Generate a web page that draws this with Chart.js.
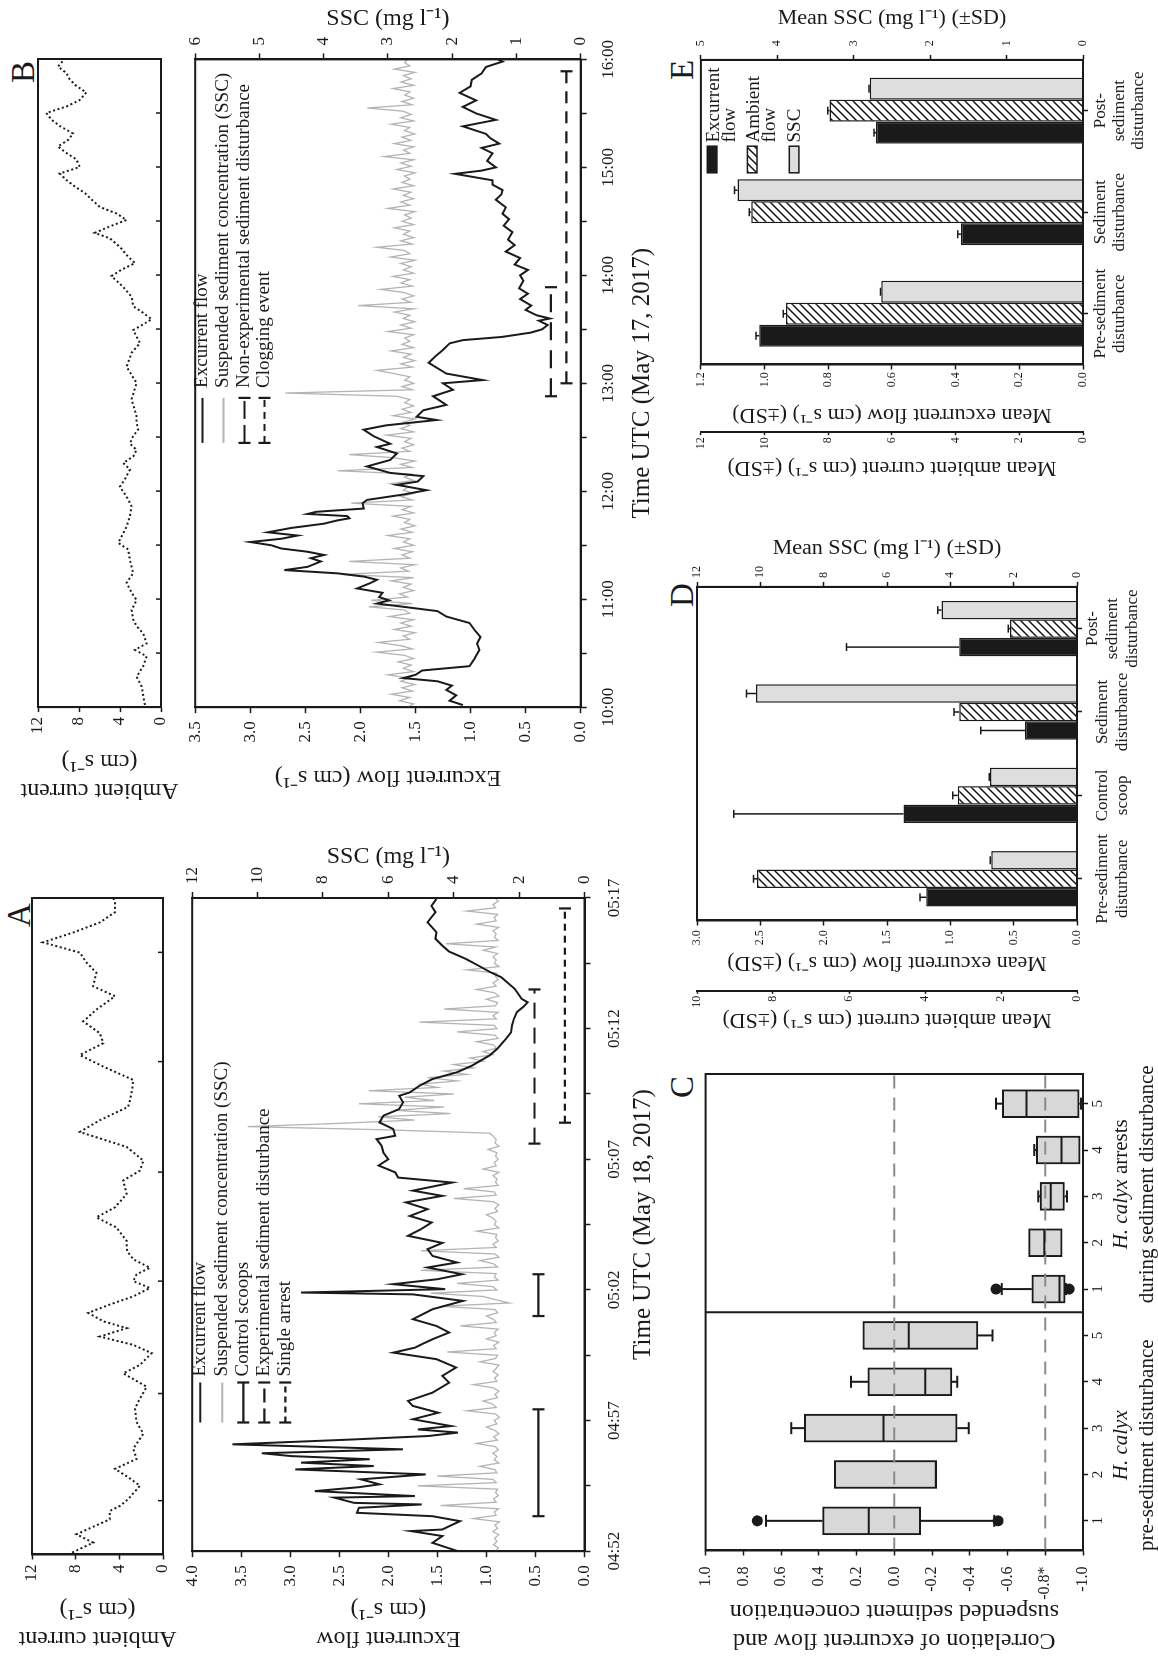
<!DOCTYPE html>
<html>
<head>
<meta charset="utf-8">
<title>Excurrent flow, ambient current and SSC</title>
<script src="https://cdn.jsdelivr.net/npm/chart.js@4.4.1/dist/chart.umd.min.js"></script>
<style>
  html, body { margin: 0; padding: 0; background: #fff; }
  body { width: 1158px; height: 1657px; overflow: hidden; position: relative; }
  /* the figure is laid out in landscape and turned a quarter left */
  #fig { position: absolute; left: 0; top: 0; width: 1657px; height: 1158px;
         transform-origin: 0 0; transform: translate(0px, 1657px) rotate(-90deg); }
  #fig canvas { position: absolute; }
  .letter { position: absolute; font-family: "Liberation Serif", serif; font-size: 33px;
            color: #1a1a1a; transform: translate(-50%, -50%); line-height: 1; }
</style>
</head>
<body>
<div id="fig">
  <div class="letter" style="left:742px;top:19px">A</div>
  <div class="letter" style="left:1585px;top:23px">B</div>
  <div class="letter" style="left:570px;top:682px">C</div>
  <div class="letter" style="left:1062px;top:682px">D</div>
  <div class="letter" style="left:1587px;top:682px">E</div>
</div>
<script>
// ---------- Panel A : May 18, minutes after 04:52 ----------
const tickLabA = ['04:52', '', '04:57', '', '05:02', '', '05:07', '', '05:12', '', '05:17'];
const flowA = [[0,1.29],[0.32,1.55],[0.58,1.45],[0.77,1.77],[0.83,1.45],[1.15,1.27],[1.34,1.55],[1.47,2.32],[1.66,2.3],[1.79,1.66],[1.85,2.35],[2.05,2.55],[2.11,1.73],[2.3,2.75],[2.45,2.3],[2.56,2.09],[2.75,2.28],[2.94,1.62],[3.13,2.95],[3.26,2.15],[3.39,2.89],[3.52,2.19],[3.64,2.99],[3.75,3.29],[3.9,1.85],[4.09,3.59],[4.28,2.34],[4.41,1.59],[4.54,1.29],[4.66,1.7],[4.79,1.36],[5.05,1.75],[5.3,1.49],[5.56,1.75],[5.75,1.8],[6.07,1.55],[6.45,1.38],[6.71,1.45],[7.03,1.31],[7.35,1.51],[7.6,1.95],[7.79,1.73],[7.92,1.66],[8.11,1.55],[8.37,1.38],[8.62,1.51],[8.88,1.75],[9.07,1.65],[9.26,1.55],[9.58,1.24],[9.83,1.75],[9.9,2.89],[9.96,2.2],[10.03,1.42],[10.22,1.95],[10.41,1.5],[10.6,1.25],[10.86,1.6],[11.05,1.3],[11.3,1.55],[11.56,1.6],[11.8,1.45],[12.07,1.8],[12.32,1.67],[12.58,1.56],[12.83,1.78],[13.09,1.6],[13.35,1.82],[13.6,1.45],[13.8,1.75],[14.11,1.35],[14.3,1.9],[14.5,1.93],[14.76,2.1],[15.0,2.0],[15.25,2.05],[15.52,2.07],[15.77,2.12],[15.9,1.93],[16.16,1.95],[16.41,2.09],[16.67,2.05],[16.92,1.89],[17.18,1.85],[17.43,1.89],[17.56,1.78],[17.82,1.68],[18.07,1.55],[18.33,1.3],[18.58,1.15],[18.97,0.97],[19.23,0.89],[19.61,0.8],[19.86,0.75],[20.12,0.74],[20.37,0.72],[20.63,0.69],[20.85,0.62],[21.01,0.58],[21.14,0.64],[21.52,0.71],[21.97,0.85],[22.16,0.96],[22.45,1.1],[22.67,1.21],[22.95,1.38],[23.18,1.45],[23.44,1.52],[23.69,1.51],[24.07,1.6],[24.46,1.52],[24.7,1.56],[24.96,1.51]];
// SSC logged every 0.125 min from 04:52
const sscAStep = 0.125;
const sscA = [2.72,2.64,2.78,2.68,2.75,2.62,2.8,2.66,2.74,2.6,3.4,2.7,2.76,2.63,4.4,2.7,2.78,2.64,2.72,2.66,
  5.1,2.7,2.8,4.5,2.68,2.74,3.2,2.62,2.76,2.68,2.8,2.64,2.72,3.3,2.66,2.78,2.62,2.74,3.0,2.68,
  2.76,2.6,2.72,3.6,2.7,2.8,3.1,2.66,2.74,2.62,2.78,3.4,2.68,2.75,2.64,2.8,2.7,2.62,3.2,2.72,
  2.66,4.2,2.7,2.78,2.62,3.0,2.7,2.76,2.64,3.8,2.7,2.78,3.0,2.66,2.74,4.4,2.3,2.72,3.1,4.7,
  2.68,2.8,3.9,2.64,2.76,2.7,5.0,2.66,2.78,3.2,2.62,2.74,5.0,2.7,2.8,2.64,2.72,2.68,3.3,2.62,
  2.76,2.7,2.8,3.0,2.66,2.74,2.62,2.78,4.0,2.7,2.76,3.7,2.64,2.72,2.68,2.8,2.62,3.1,2.7,2.76,
  2.64,2.72,2.68,2.95,2.62,2.74,2.7,2.78,2.9,6.0,10.3,7.5,5.2,6.3,4.1,5.8,4.3,6.9,4.6,5.5,
  4.0,6.6,4.5,5.0,3.9,4.8,3.6,4.3,3.4,4.0,3.1,3.5,2.8,3.1,2.7,2.78,3.3,2.64,2.74,3.9,
  2.68,2.76,5.05,2.7,2.8,2.64,4.3,2.72,2.66,3.0,2.62,2.76,3.3,2.7,2.8,2.64,2.72,2.68,3.6,2.62,
  2.76,2.7,2.8,2.66,3.1,2.72,4.24,2.64,2.76,2.7,2.8,2.62,3.3,2.7,2.76,2.66,3.6,2.72,2.8,2.64,2.74];
const ambA = [[0,8.7],[0.45,6.4],[0.77,7.93],[1.34,4.87],[1.66,4.87],[1.85,3.95],[2.11,3.18],[2.62,2.11],[2.94,3.18],[3.26,4.4],[3.64,2.42],[4.03,2.72],[4.6,1.8],[5.05,2.42],[5.56,2.57],[5.94,2.11],[6.39,1.5],[6.9,3.64],[7.22,2.11],[7.67,1.04],[7.98,2.72],[8.3,5.78],[8.62,3.33],[8.88,5.47],[9.2,6.85],[9.52,4.87],[9.83,2.72],[10.15,1.19],[10.41,2.72],[10.67,2.42],[10.92,1.19],[11.24,2.72],[11.56,3.3],[11.94,3.33],[12.45,4.26],[12.84,6.1],[13.22,4.4],[13.73,3.33],[14.24,3.64],[14.62,2.11],[15.0,1.8],[15.52,3.33],[16.09,7.62],[16.54,5.78],[17.05,3.18],[17.56,2.88],[18.07,2.72],[18.58,5.47],[19.02,7.62],[19.47,5.47],[19.85,5.78],[20.3,7.31],[20.75,6.1],[21.26,4.4],[21.64,6.4],[22.15,6.1],[22.54,7.0],[22.92,7.62],[23.31,10.99],[23.69,8.2],[24.07,5.78],[24.46,4.4],[24.84,4.4],[25,4.56]];
const ambTicksA = [2.05, 6.13, 10.41, 14.56, 18.77, 22.93];
const ctrlScoopsA = [[1.34, 5.43], [9.0, 10.6]];
const sedDistA = [[15.6, 21.5]];
const singleArrestA = [[16.4, 24.6]];

// ---------- Panel B : May 17, hours after 10:00 ----------
const tickLabB = ['10:00', '', '11:00', '', '12:00', '', '13:00', '', '14:00', '', '15:00', '', '16:00'];
const flowB = [[0.02,1.07],[0.06,1.19],[0.11,1.13],[0.16,1.22],[0.2,1.17],[0.24,1.3],[0.27,1.61],[0.3,1.5],[0.34,1.44],[0.38,1.01],[0.44,0.97],[0.53,0.92],[0.59,0.94],[0.65,0.91],[0.71,0.96],[0.78,1.01],[0.84,1.22],[0.89,1.3],[0.93,1.61],[0.96,1.85],[0.99,1.74],[1.02,1.83],[1.06,1.8],[1.1,2.03],[1.15,1.91],[1.18,1.85],[1.21,1.97],[1.24,2.21],[1.27,2.69],[1.3,2.48],[1.35,2.36],[1.38,2.45],[1.41,2.33],[1.44,2.48],[1.47,2.72],[1.5,2.81],[1.53,3.0],[1.56,2.72],[1.59,2.57],[1.62,2.84],[1.66,2.63],[1.7,2.33],[1.73,2.21],[1.75,2.1],[1.77,2.12],[1.79,2.48],[1.81,2.4],[1.84,1.97],[1.89,1.98],[1.92,1.94],[1.97,1.61],[2.01,1.4],[2.06,1.67],[2.09,1.48],[2.14,1.43],[2.17,1.73],[2.23,1.94],[2.29,1.73],[2.35,1.67],[2.41,1.85],[2.44,1.73],[2.51,1.88],[2.57,1.97],[2.61,1.77],[2.66,1.31],[2.69,1.49],[2.75,1.43],[2.8,1.22],[2.88,1.34],[2.94,1.16],[3.0,1.25],[3.03,0.89],[3.09,1.22],[3.19,1.38],[3.25,1.32],[3.31,1.25],[3.37,1.19],[3.4,1.07],[3.43,0.71],[3.47,0.45],[3.5,0.35],[3.54,0.3],[3.58,0.38],[3.6,0.28],[3.63,0.4],[3.68,0.5],[3.72,0.45],[3.78,0.55],[3.83,0.48],[3.88,0.56],[3.95,0.52],[4.0,0.55],[4.05,0.48],[4.1,0.6],[4.16,0.55],[4.22,0.68],[4.28,0.6],[4.33,0.66],[4.4,0.62],[4.46,0.7],[4.52,0.65],[4.57,0.71],[4.63,0.68],[4.7,0.77],[4.75,0.72],[4.79,0.71],[4.84,0.8],[4.88,0.8],[4.94,1.14],[4.97,0.9],[5.0,0.77],[5.06,0.85],[5.13,0.8],[5.18,0.9],[5.22,0.74],[5.27,0.82],[5.31,0.86],[5.38,1.07],[5.44,0.77],[5.5,0.95],[5.56,1.07],[5.62,0.95],[5.69,1.1],[5.75,1.0],[5.81,0.99],[5.87,0.9],[5.93,0.86],[5.98,0.71],[6.0,0.75]];
// SSC logged every 0.03 h from 10:00
const sscBStep = 0.03;
const sscB = [2.7,2.6,2.82,2.66,2.95,2.62,2.78,2.58,2.8,2.68,3.0,2.6,2.76,2.64,2.84,2.6,2.74,3.18,2.62,2.8,
  3.15,2.66,2.76,2.58,2.9,2.64,2.8,2.6,2.98,2.66,2.74,3.3,2.62,3.26,2.7,2.82,2.6,2.76,2.64,2.95,
  2.6,3.72,2.68,2.8,2.58,3.6,2.66,2.78,2.62,2.9,2.6,2.76,2.66,3.0,2.62,2.8,2.58,2.74,2.66,2.92,
  2.6,2.78,2.64,3.57,2.62,2.8,2.6,2.76,2.68,2.96,2.6,2.74,2.64,3.78,2.62,2.8,2.58,2.9,3.6,2.66,
  2.78,2.6,2.74,2.64,3.02,2.6,2.8,2.66,2.76,2.58,2.92,2.64,2.78,2.6,2.74,2.66,2.86,4.6,2.62,2.78,
  2.6,2.74,2.66,2.9,3.17,2.62,2.8,2.58,2.76,2.64,2.95,2.6,2.78,2.66,2.74,2.6,3.0,2.64,2.8,2.58,
  2.76,2.66,2.9,2.6,3.46,2.64,2.78,2.6,2.74,3.11,2.62,2.8,2.66,2.92,2.6,2.76,2.64,2.8,2.58,2.96,
  2.66,2.74,3.17,2.62,2.8,2.6,2.76,2.66,2.9,2.6,2.78,2.64,2.74,2.58,3.0,2.66,2.8,2.6,2.76,2.64,
  2.92,2.6,2.78,2.66,2.74,2.58,2.86,2.64,2.8,2.6,3.06,2.66,2.76,2.6,2.9,2.64,2.78,2.58,2.74,2.66,
  2.95,2.6,2.8,2.64,2.76,3.32,2.62,2.78,2.6,2.74,2.66,2.92,2.6,2.8,2.64,2.76,2.58,2.9,2.66,2.74,2.7];
const ambB = [[0.02,1.57],[0.1,1.73],[0.19,1.88],[0.28,2.38],[0.38,1.73],[0.47,1.4],[0.53,2.54],[0.59,1.4],[0.68,1.73],[0.75,2.38],[0.81,2.71],[0.9,2.87],[0.99,2.38],[1.06,2.87],[1.15,3.36],[1.24,2.71],[1.36,3.03],[1.46,3.2],[1.52,4.17],[1.58,3.85],[1.67,3.36],[1.77,3.03],[1.86,2.87],[1.95,3.36],[2.04,4.01],[2.11,3.52],[2.2,3.03],[2.26,3.69],[2.32,2.71],[2.38,2.38],[2.44,3.03],[2.51,2.71],[2.57,2.22],[2.63,2.38],[2.69,2.38],[2.85,2.87],[3.0,2.38],[3.15,3.36],[3.28,2.87],[3.37,2.05],[3.49,2.71],[3.59,0.91],[3.65,1.73],[3.71,2.71],[3.8,2.87],[3.89,3.69],[3.99,4.83],[4.05,3.85],[4.11,2.54],[4.17,3.2],[4.26,4.01],[4.34,4.99],[4.39,6.46],[4.45,4.99],[4.51,3.36],[4.57,4.34],[4.63,5.97],[4.7,6.78],[4.76,7.44],[4.82,8.41],[4.88,9.23],[4.94,9.88],[5.0,7.93],[5.07,8.25],[5.13,9.23],[5.19,10.05],[5.25,9.07],[5.31,8.58],[5.38,9.88],[5.44,10.7],[5.5,11.19],[5.56,9.23],[5.62,7.93],[5.69,7.28],[5.75,8.25],[5.81,8.9],[5.87,9.23],[5.93,10.05],[6.0,9.4]];
const ambTicksB = [0.5, 1, 1.5, 2, 2.5, 3, 3.5, 4, 4.5, 5, 5.5];
const nonExpDistB = [[2.88, 3.89]];
const cloggingB = [[3.0, 5.89]];

// ---------- Panel C : correlation box plots ----------
const posC = [1, 2, 3, 4, 5, 6, 7, 8, 9, 10];
const labC = ['1', '2', '3', '4', '5', '1', '2', '3', '4', '5'];
const loC  = [-0.53, -0.224, -0.394, -0.333, -0.521, -0.91, -0.89, -0.915, -0.985, -0.99];
const q1C  = [-0.14, -0.224, -0.333, -0.305, -0.443, -0.905, -0.89, -0.902, -0.985, -0.98];
const medC = [0.136, -0.22, 0.057, -0.164, -0.077, -0.876, -0.795, -0.829, -0.886, -0.70];
const q3C  = [0.38, 0.318, 0.477, 0.14, 0.167, -0.729, -0.712, -0.772, -0.753, -0.573];
const hiC  = [0.68, 0.318, 0.546, 0.229, 0.167, -0.57, -0.712, -0.763, -0.741, -0.539];
const outlierC = [[1, 0.726], [1, -0.55], [6, -0.539], [6, -0.927]];
const yTickLabC = ['-1.0', '-0.8*', '-0.6', '-0.4', '-0.2', '0.0', '0.2', '0.4', '0.6', '0.8', '1.0'];
const refLinesC = [0, -0.8];

// ---------- Panel D ----------
const catsD = [['Pre-sediment', 'disturbance'], ['Control', 'scoop'], ['Sediment', 'disturbance'], ['Post-', 'sediment', 'disturbance']];
const flowD = [1.19, 1.37, 0.41, 0.93];
const flowSdD = [0.05, 1.34, 0.35, 0.89];
const ambD = [8.42, 3.14, 3.10, 1.76];
const ambSdD = [0.09, 0.13, 0.14, 0.05];
const sscD = [2.71, 2.75, 10.14, 4.28];
const sscSdD = [0.03, 0.02, 0.30, 0.12];

// ---------- Panel E ----------
const catsE = [['Pre-sediment', 'disturbance'], ['Sediment', 'disturbance'], ['Post-', 'sediment', 'disturbance']];
const flowE = [1.017, 0.383, 0.65];
const flowSdE = [0.01, 0.01, 0.006];
const ambE = [9.33, 10.42, 7.96];
const ambSdE = [0.08, 0.06, 0.06];
const sscE = [2.64, 4.52, 2.79];
const sscSdE = [0.01, 0.04, 0.01];

// ---------- setup ----------
Chart.defaults.font.family = '"Liberation Serif", "Times New Roman", serif';
Chart.defaults.color = '#1a1a1a';
Chart.defaults.animation = false;
Chart.defaults.responsive = false;
Chart.defaults.devicePixelRatio = 1;
Chart.defaults.plugins.legend.display = false;
Chart.defaults.plugins.tooltip.enabled = false;
Chart.defaults.elements.point.radius = 0;

const INK = '#1a1a1a';
const GREY_LINE = '#b4b4b4';
const PAD = 12;
const fig = document.getElementById('fig');

function makeCanvas(area, L, R, B, pv) {
  pv = pv || PAD;
  const el = document.createElement('canvas');
  const left = area[0] - L - PAD, top = area[2] - pv;
  const w = Math.round(area[1] - left + R + PAD);
  const h = Math.round(area[3] - top + B + pv);
  el.width = w; el.height = h;
  el.style.left = left + 'px'; el.style.top = top + 'px';
  el.style.width = w + 'px'; el.style.height = h + 'px';
  fig.appendChild(el);
  return { el, left, top, padding: { left: PAD, right: PAD, top: pv, bottom: pv } };
}
const fixW = w => s => { s.width = w; };
const fixH = h => s => { s.height = h; };
const tickGrid = len => ({ display: true, drawOnChartArea: false, drawTicks: true, tickLength: len, tickColor: INK, tickWidth: 1.5, offset: false });
const border = { display: true, color: INK, width: 2 };
const xy = arr => arr.map(p => ({ x: p[0], y: p[1] }));
const sampled = (vals, step) => vals.map((v, i) => ({ x: i * step, y: v }));

const frame = {
  id: 'frame',
  afterDraw(chart) {
    const g = chart.ctx, a = chart.chartArea;
    g.save(); g.strokeStyle = INK; g.lineWidth = 2;
    g.strokeRect(a.left, a.top, a.right - a.left, a.bottom - a.top);
    g.restore();
  }
};

function innerTicks(vals) {
  return {
    id: 'innerTicks',
    afterDraw(chart) {
      const g = chart.ctx, x = chart.scales.x, a = chart.chartArea;
      g.save(); g.strokeStyle = INK; g.lineWidth = 1.5; g.beginPath();
      vals.forEach(v => { const px = x.getPixelForValue(v); g.moveTo(px, a.bottom); g.lineTo(px, a.bottom - 5); });
      g.stroke(); g.restore();
    }
  };
}

function capLine(g, a, b, y, dash) {
  g.setLineDash(dash);
  g.beginPath(); g.moveTo(a, y); g.lineTo(b, y); g.stroke();
  g.setLineDash([]);
  g.beginPath(); g.moveTo(a, y - 6); g.lineTo(a, y + 6); g.moveTo(b, y - 6); g.lineTo(b, y + 6); g.stroke();
}

function eventMarkers(groups) {
  return {
    id: 'eventMarkers',
    afterDatasetsDraw(chart) {
      const g = chart.ctx, x = chart.scales.x, y = chart.scales.y;
      g.save(); g.strokeStyle = INK; g.lineWidth = 2.2;
      groups.forEach(gr => gr.spans.forEach(s => {
        capLine(g, x.getPixelForValue(s[0]), x.getPixelForValue(s[1]), y.getPixelForValue(gr.level), gr.dash);
      }));
      g.restore();
    }
  };
}

function seriesLegend(off, sx0, sx1, tx, rows) {
  return {
    id: 'seriesLegend',
    afterDraw(chart) {
      const g = chart.ctx;
      g.save();
      g.font = '19px "Liberation Serif"';
      g.textBaseline = 'middle';
      g.fillStyle = INK;
      rows.forEach(r => {
        const y = r.y - off.top, a = sx0 - off.left, b = sx1 - off.left;
        g.strokeStyle = r.color; g.lineWidth = r.width;
        if (r.caps) capLine(g, a, b, y, r.dash);
        else { g.beginPath(); g.moveTo(a, y); g.lineTo(b, y); g.stroke(); }
        g.fillText(r.text, tx - off.left, y);
      });
      g.restore();
    }
  };
}

function seriesChart(o) {
  const c = makeCanvas(o.area, o.L, o.R, o.B);
  new Chart(c.el, {
    type: 'line',
    data: { datasets: [
      { data: xy(o.flow), borderColor: INK, borderWidth: 2, yAxisID: 'y', order: 0 },
      { data: o.ssc, borderColor: GREY_LINE, borderWidth: 1.3, yAxisID: 'y2', order: 1 }
    ]},
    options: {
      layout: { padding: c.padding },
      scales: {
        x: { type: 'linear', min: 0, max: o.xMax, afterFit: fixH(o.B), border, grid: tickGrid(6),
             ticks: { stepSize: o.step, autoSkip: false, maxRotation: 0, padding: o.xPad, font: { size: 17 },
                      callback: (v, i) => o.xLabels[i] },
             title: { display: true, text: o.xTitle, font: { size: 25 }, padding: 0 } },
        y: { min: 0, max: o.yMax, afterFit: fixW(o.L), border, grid: tickGrid(6),
             ticks: { stepSize: 0.5, padding: 8, font: { size: 17 }, callback: v => v.toFixed(1) },
             title: { display: true, text: o.yTitle, font: { size: 24, lineHeight: 1.18 }, padding: 0 } },
        y2: { position: 'right', min: 0, max: o.y2Max, afterFit: fixW(o.R), border, grid: tickGrid(6),
              ticks: { stepSize: o.y2Step, padding: 8, font: { size: 17 } },
              title: { display: true, text: 'SSC (mg l⁻¹)', font: { size: 24 }, padding: 0 } }
      }
    },
    plugins: [frame, eventMarkers(o.events), seriesLegend(c, o.leg[0], o.leg[1], o.leg[2], o.legRows)]
  });
}

function ambientChart(o) {
  const c = makeCanvas(o.area, o.L, 0, 0, 40);
  new Chart(c.el, {
    type: 'line',
    data: { datasets: [{ data: xy(o.data), borderColor: INK, borderWidth: 2, borderDash: [2, 2.6] }] },
    options: {
      layout: { padding: c.padding },
      scales: {
        x: { type: 'linear', display: false, min: 0, max: o.xMax },
        y: { min: 0, max: 12, afterFit: fixW(o.L), border, grid: tickGrid(5),
             ticks: { stepSize: 4, padding: 5, font: { size: 17 } },
             title: { display: true, text: ['Ambient current', '(cm s⁻¹)'], font: { size: 24, lineHeight: 1.18 }, padding: 0 } }
      }
    },
    plugins: [frame, innerTicks(o.ticks)]
  });
}

// ---------- A ----------
ambientChart({ area: [102, 758, 32.3, 162.9], L: 97.5, xMax: 25, data: ambA, ticks: ambTicksA });
seriesChart({
  area: [105.3, 758.7, 185.7, 584.5], L: 100.8, R: 56, B: 73.5,
  flow: flowA, ssc: sampled(sscA, sscAStep), xMax: 25, step: 2.5, xPad: 14.3, xLabels: tickLabA,
  xTitle: 'Time UTC (May 18, 2017)', yMax: 4, y2Max: 12, y2Step: 2,
  yTitle: ['Excurrent flow', '(cm s⁻¹)'],
  events: [
    { spans: ctrlScoopsA, level: 0.47, dash: [] },
    { spans: sedDistA, level: 0.51, dash: [16, 9] },
    { spans: singleArrestA, level: 0.2, dash: [7, 5] }
  ],
  leg: [234, 274, 280],
  legRows: [
    { y: 200, color: INK, width: 2, text: 'Excurrent flow' },
    { y: 222, color: GREY_LINE, width: 2, text: 'Suspended sediment concentration (SSC)' },
    { y: 243, color: INK, width: 2.2, caps: true, dash: [], text: 'Control scoops' },
    { y: 264, color: INK, width: 2.2, caps: true, dash: [14, 6], text: 'Experimental sediment disturbance' },
    { y: 285, color: INK, width: 2.2, caps: true, dash: [6, 4], text: 'Single arrest' }
  ]
});

// ---------- B ----------
ambientChart({ area: [949.7, 1597.7, 38.3, 161], L: 96.9, xMax: 6, data: ambB, ticks: ambTicksB });
seriesChart({
  area: [949.7, 1597.7, 188.5, 579.7], L: 83.8, R: 55.4, B: 76.3,
  flow: flowB, ssc: sampled(sscB, sscBStep), xMax: 6, step: 0.5, xPad: 12.1, xLabels: tickLabB,
  xTitle: 'Time UTC (May 17, 2017)', yMax: 3.5, y2Max: 6, y2Step: 1,
  yTitle: 'Excurrent flow (cm s⁻¹)',
  events: [
    { spans: nonExpDistB, level: 0.27, dash: [18, 10] },
    { spans: cloggingB, level: 0.13, dash: [12, 8] }
  ],
  leg: [1214, 1259, 1269],
  legRows: [
    { y: 202, color: INK, width: 2, text: 'Excurrent flow' },
    { y: 223, color: GREY_LINE, width: 2, text: 'Suspended sediment concentration (SSC)' },
    { y: 244, color: INK, width: 2.2, caps: true, dash: [18, 6], text: 'Non-experimental sediment disturbance' },
    { y: 264, color: INK, width: 2.2, caps: true, dash: [7, 5], text: 'Clogging event' }
  ]
});

// ---------- C ----------
const cC = makeCanvas([106.3, 583, 696.7, 1082.3], 103.5, 0, 85);
const boxWhiskers = {
  id: 'boxWhiskers',
  afterDatasetsDraw(chart) {
    const g = chart.ctx, x = chart.scales.x, y = chart.scales.y;
    g.save(); g.strokeStyle = INK; g.lineWidth = 2;
    posC.forEach((p, i) => {
      const px = x.getPixelForValue(p);
      g.beginPath();
      g.moveTo(px - 13, y.getPixelForValue(medC[i])); g.lineTo(px + 13, y.getPixelForValue(medC[i]));
      if (hiC[i] > q3C[i]) {
        const t = y.getPixelForValue(hiC[i]);
        g.moveTo(px, y.getPixelForValue(q3C[i])); g.lineTo(px, t);
        g.moveTo(px - 6, t); g.lineTo(px + 6, t);
      }
      if (loC[i] < q1C[i]) {
        const b = y.getPixelForValue(loC[i]);
        g.moveTo(px, y.getPixelForValue(q1C[i])); g.lineTo(px, b);
        g.moveTo(px - 6, b); g.lineTo(px + 6, b);
      }
      g.stroke();
    });
    g.restore();
  }
};
const refLines = {
  id: 'refLines',
  afterDatasetsDraw(chart) {
    const g = chart.ctx, x = chart.scales.x, y = chart.scales.y, a = chart.chartArea;
    g.save();
    g.strokeStyle = '#8a8a8a'; g.lineWidth = 2; g.setLineDash([13, 9]);
    refLinesC.forEach(v => {
      const py = y.getPixelForValue(v);
      g.beginPath(); g.moveTo(a.left, py); g.lineTo(a.right, py); g.stroke();
    });
    g.setLineDash([]); g.strokeStyle = INK;
    const sx = x.getPixelForValue(5.5);
    g.beginPath(); g.moveTo(sx, a.top); g.lineTo(sx, a.bottom); g.stroke();
    g.restore();
  }
};
const groupLabels = {
  id: 'groupLabels',
  afterDraw(chart) {
    const g = chart.ctx, x = chart.scales.x;
    const groups = [
      { at: 2.63, lines: [[['H. calyx', true]], [['pre-sediment disturbance', false]]] },
      { at: 8.26, lines: [[['H. calyx', true], [' arrests', false]], [['during sediment disturbance', false]]] }
    ];
    const ys = [1121 - cC.top, 1147 - cC.top];
    g.save(); g.fillStyle = INK; g.textBaseline = 'middle'; g.textAlign = 'left';
    const fontOf = it => (it ? 'italic ' : '') + '21px "Liberation Serif"';
    groups.forEach(gr => {
      const cx = x.getPixelForValue(gr.at);
      gr.lines.forEach((parts, li) => {
        let w = 0;
        parts.forEach(p => { g.font = fontOf(p[1]); w += g.measureText(p[0]).width; });
        let px = cx - w / 2;
        parts.forEach(p => { g.font = fontOf(p[1]); g.fillText(p[0], px, ys[li]); px += g.measureText(p[0]).width; });
      });
    });
    g.restore();
  }
};
new Chart(cC.el, {
  type: 'bar',
  data: { datasets: [
    { type: 'bar', data: posC.map((p, i) => ({ x: p, y: [q1C[i], q3C[i]] })), backgroundColor: '#d8d8d8',
      borderColor: INK, borderWidth: 2, borderSkipped: false, barThickness: 28 },
    { type: 'scatter', data: xy(outlierC), pointRadius: 5.5, pointBackgroundColor: INK, pointBorderWidth: 0 }
  ]},
  options: {
    layout: { padding: cC.padding },
    scales: {
      x: { type: 'linear', min: 0.36, max: 10.64, offset: false, afterFit: fixH(85), border, grid: tickGrid(5),
           afterBuildTicks: s => { s.ticks = posC.map(v => ({ value: v })); },
           ticks: { autoSkip: false, maxRotation: 0, padding: 1, font: { size: 15 }, callback: (v, i) => labC[i] } },
      y: { min: -1, max: 1, afterFit: fixW(103.5), border, grid: tickGrid(5),
           ticks: { stepSize: 0.2, padding: 11, font: { size: 16 }, callback: (v, i) => yTickLabC[i] },
           title: { display: true, text: ['Correlation of excurrent flow and', 'suspended sediment concentration'],
                    font: { size: 24, lineHeight: 1.18 }, padding: 0 } }
    }
  },
  plugins: [frame, refLines, boxWhiskers, groupLabels]
});

// ---------- D and E (bars with SD) ----------
function hatchFor(ctx) {
  const p = document.createElement('canvas');
  p.width = 8; p.height = 8;
  const g = p.getContext('2d');
  g.fillStyle = '#fff'; g.fillRect(0, 0, 8, 8);
  g.strokeStyle = '#111'; g.lineWidth = 1.5;
  g.beginPath(); g.moveTo(-1, 9); g.lineTo(9, -1); g.stroke();
  g.beginPath(); g.moveTo(-1, 1); g.lineTo(1, -1); g.stroke();
  g.beginPath(); g.moveTo(7, 9); g.lineTo(9, 7); g.stroke();
  return ctx.createPattern(p, 'repeat');
}
const errorBars = {
  id: 'errorBars',
  afterDatasetsDraw(chart) {
    const g = chart.ctx;
    g.save(); g.strokeStyle = INK; g.lineWidth = 1.5;
    chart.data.datasets.forEach((ds, di) => {
      const meta = chart.getDatasetMeta(di), sc = chart.scales[ds.yAxisID];
      meta.data.forEach((bar, i) => {
        const top = sc.getPixelForValue(ds.data[i] + ds.sd[i]);
        g.beginPath();
        g.moveTo(bar.x, bar.y); g.lineTo(bar.x, top);
        g.moveTo(bar.x - 4, top); g.lineTo(bar.x + 4, top);
        g.stroke();
      });
    });
    g.restore();
  }
};

function barPanel(o) {
  const c = makeCanvas(o.area, o.flowW + o.ambW, o.R, 75);
  const hatch = hatchFor(c.el.getContext('2d'));
  const common = { borderColor: INK, borderWidth: 1.5, barPercentage: 1, categoryPercentage: o.catPct };
  const extra = o.legend ? [o.legend(c, hatch)] : [];
  new Chart(c.el, {
    type: 'bar',
    data: { labels: o.cats, datasets: [
      Object.assign({ data: o.flow, sd: o.flowSd, yAxisID: 'y', backgroundColor: INK }, common),
      Object.assign({ data: o.amb, sd: o.ambSd, yAxisID: 'yA', backgroundColor: hatch }, common),
      Object.assign({ data: o.ssc, sd: o.sscSd, yAxisID: 'yS', backgroundColor: '#dedede' }, common)
    ]},
    options: {
      layout: { padding: c.padding },
      scales: {
        x: { afterFit: fixH(75), border, grid: tickGrid(5),
             ticks: { autoSkip: false, maxRotation: 0, crossAlign: o.cross, padding: o.xPad,
                      font: { size: 17, lineHeight: o.xLh } } },
        y: { position: 'left', weight: 0, min: 0, max: o.flowMax, afterFit: fixW(o.flowW), border, grid: tickGrid(5),
             ticks: { stepSize: o.flowStep, padding: o.flowPad, font: { size: 12 }, callback: v => v.toFixed(1) },
             title: { display: true, text: 'Mean excurrent flow (cm s⁻¹) (±SD)', font: { size: 22 }, padding: { top: o.flowTitlePad } } },
        yA: { position: 'left', weight: 1, min: 0, max: o.ambMax, afterFit: fixW(o.ambW), border, grid: tickGrid(3),
              ticks: { stepSize: 2, padding: 2, font: { size: 12 } },
              title: { display: true, text: 'Mean ambient current (cm s⁻¹) (±SD)', font: { size: 22 }, padding: 0 } },
        yS: { position: 'right', min: 0, max: o.sscMax, afterFit: fixW(o.R), border, grid: tickGrid(5),
              ticks: { stepSize: o.sscStep, padding: o.sscPad, font: { size: 12 } },
              title: { display: true, text: 'Mean SSC (mg l⁻¹) (±SD)', font: { size: 22 }, padding: 0 } }
      }
    },
    plugins: [frame, errorBars].concat(extra)
  });
}

barPanel({
  area: [736.3, 1070.3, 697.3, 1076.8], flowW: 70.3, ambW: 42.2, R: 51.9, catPct: 0.665,
  cats: catsD, flow: flowD, flowSd: flowSdD, amb: ambD, ambSd: ambSdD, ssc: sscD, sscSd: sscSdD,
  flowMax: 3, flowStep: 0.5, flowPad: 4.8, flowTitlePad: 14.8, ambMax: 10, sscMax: 12, sscStep: 2, sscPad: 4,
  cross: 'center', xPad: 10.2, xLh: 1.18
});

barPanel({
  area: [1292, 1597, 696.5, 1082.5], flowW: 67.7, ambW: 48.8, R: 54.9, catPct: 0.65,
  cats: catsE, flow: flowE, flowSd: flowSdE, amb: ambE, ambSd: ambSdE, ssc: sscE, sscSd: sscSdE,
  flowMax: 1.2, flowStep: 0.2, flowPad: 2.7, flowTitlePad: 4.5, ambMax: 12, sscMax: 5, sscStep: 1, sscPad: 8.7,
  cross: 'near', xPad: 2.7, xLh: 1.12,
  legend: (c, hatch) => ({
    id: 'legendE',
    afterDraw(chart) {
      const g = chart.ctx;
      g.save();
      [[706.8, INK], [746.9, hatch], [788.8, '#dedede']].forEach(s => {
        g.fillStyle = s[1];
        g.fillRect(1483.7 - c.left, s[0] - c.top, 26.6, 9.6);
        g.strokeStyle = INK; g.lineWidth = 1.5;
        g.strokeRect(1483.7 - c.left, s[0] - c.top, 26.6, 9.6);
      });
      g.font = '19px "Liberation Serif"'; g.fillStyle = INK; g.textBaseline = 'middle';
      [['Excurrent', 713.5], ['flow', 730], ['Ambient', 753.5], ['flow', 770], ['SSC', 794.5]]
        .forEach(t => g.fillText(t[0], 1514 - c.left, t[1] - c.top));
      g.restore();
    }
  })
});
</script>
</body>
</html>
